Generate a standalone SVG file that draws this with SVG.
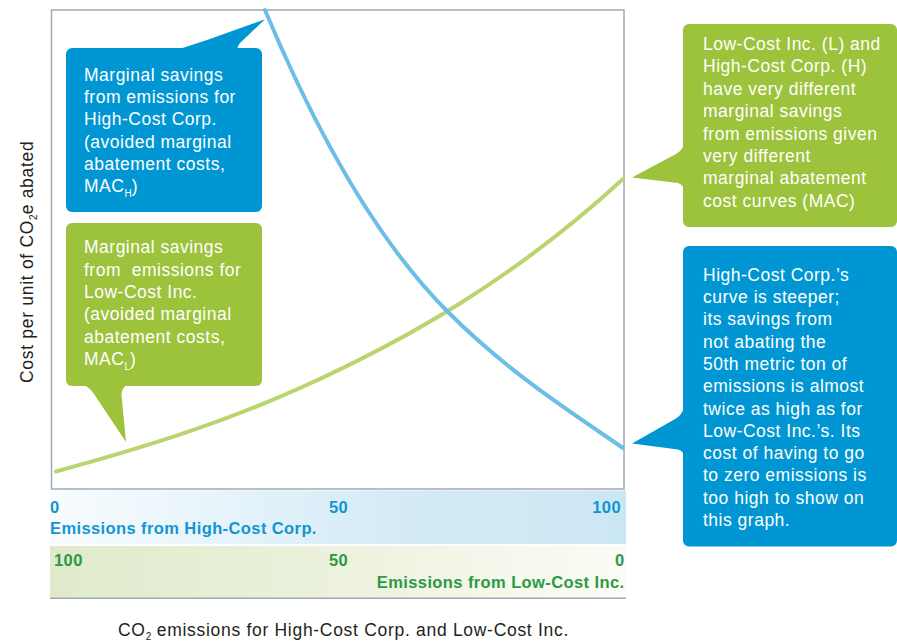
<svg xmlns="http://www.w3.org/2000/svg" width="897" height="642" viewBox="0 0 897 642">
<defs>
<linearGradient id="gBlue" x1="0" y1="0" x2="1" y2="0">
<stop offset="0" stop-color="#f8fcfe"/>
<stop offset="0.6" stop-color="#d4ebf6"/>
<stop offset="1" stop-color="#cce7f4"/>
</linearGradient>
<linearGradient id="gGreen" x1="0" y1="0" x2="1" y2="0">
<stop offset="0" stop-color="#e0eacb"/>
<stop offset="0.5" stop-color="#ecf2dd"/>
<stop offset="1" stop-color="#fbfcf6"/>
</linearGradient>
<style>
.cb{fill:#0096d3}
.cg{fill:#9dc23b}
.ct{font-family:"Liberation Sans",Arial,sans-serif;font-size:17.5px;letter-spacing:0.5px;fill:#ffffff}
.sub{font-size:10px;letter-spacing:0}
.ax{font-family:"Liberation Sans",Arial,sans-serif;font-size:17.5px;letter-spacing:0.7px;fill:#231f20}
.lb{font-family:"Liberation Sans",Arial,sans-serif;font-size:16.5px;font-weight:bold;letter-spacing:0.4px}
.lbB{fill:#1196d3}
.lbG{fill:#2e9846}
.frame{fill:none;stroke:#a0aab4;stroke-width:1.5}
.curve{fill:none;stroke-width:4;stroke-linecap:round}
</style>
</defs>
<rect width="897" height="642" fill="#ffffff"/>

<g id="plot">
<rect class="frame" x="51.5" y="10" width="572.5" height="479"/>
</g>

<g id="curves">
<path class="curve" stroke="#bad46e" d="M56,471.5 C137.3,449.5 218.7,424.6 300,388 C407.7,339.5 515.3,278 623,179"/>
<path class="curve" stroke="#6cbee6" d="M265,10 C326,156 387,251 448,312 C506.3,370.3 564.7,408.3 623,448"/>
</g>

<g id="axis-high">
<rect x="50" y="490.5" width="576" height="53.5" fill="url(#gBlue)"/>
<text class="lb lbB" x="50" y="512.7">0</text>
<text class="lb lbB" x="329" y="512.7">50</text>
<text class="lb lbB" x="621" y="512.7" text-anchor="end">100</text>
<text class="lb lbB" x="50" y="534.3">Emissions from High-Cost Corp.</text>
</g>

<g id="axis-low">
<rect x="50" y="546" width="576" height="52" fill="url(#gGreen)"/>
<line x1="50" y1="598.3" x2="626" y2="598.3" stroke="#a0aab4" stroke-width="1.5"/>
<text class="lb lbG" x="54" y="566">100</text>
<text class="lb lbG" x="329" y="566">50</text>
<text class="lb lbG" x="624.5" y="566" text-anchor="end">0</text>
<text class="lb lbG" x="624.5" y="587.7" text-anchor="end">Emissions from Low-Cost Inc.</text>
</g>

<g id="y-label">
<text class="ax" transform="translate(33,383) rotate(-90)">Cost per unit of CO<tspan class="sub" dy="4">2</tspan><tspan dy="-4">e abated</tspan></text>
</g>

<g id="x-label">
<text class="ax" x="118" y="636">CO<tspan class="sub" dy="4">2</tspan><tspan dy="-4"> emissions for High-Cost Corp. and Low-Cost Inc.</tspan></text>
</g>

<g id="callout-mac-h">
<rect class="cb" x="66" y="48" width="196" height="164" rx="6"/>
<path class="cb" d="M181,48.5 L207,40 L265,19.3 L240,43 Q237.5,46 237.5,48.5 Z"/>
<text class="ct" x="84">
<tspan x="84" y="80.7">Marginal savings</tspan>
<tspan x="84" y="103">from emissions for</tspan>
<tspan x="84" y="125.3">High-Cost Corp.</tspan>
<tspan x="84" y="147.6">(avoided marginal</tspan>
<tspan x="84" y="169.9">abatement costs,</tspan>
<tspan x="84" y="192.2">MAC<tspan class="sub" dy="5">H</tspan><tspan dy="-5">)</tspan></tspan>
</text>
</g>

<g id="callout-mac-l">
<rect class="cg" x="66" y="223" width="196" height="163" rx="6"/>
<path class="cg" d="M84,385 Q90,388 94,394 L126,442 L121.5,395 Q121.5,388 127,385 Z"/>
<text class="ct" x="84">
<tspan x="84" y="253.3">Marginal savings</tspan>
<tspan x="84" y="275.6">from&#160; emissions for</tspan>
<tspan x="84" y="297.9">Low-Cost Inc.</tspan>
<tspan x="84" y="320.2">(avoided marginal</tspan>
<tspan x="84" y="342.5">abatement costs,</tspan>
<tspan x="84" y="364.8">MAC<tspan class="sub" dy="5">L</tspan><tspan dy="-5">)</tspan></tspan>
</text>
</g>

<g id="callout-different">
<rect class="cg" x="683" y="24" width="214" height="203" rx="6"/>
<path class="cg" d="M684,144 Q682,151 676,154 L632,177.5 L678,183 Q684,185 684,191 Z"/>
<text class="ct">
<tspan x="703" y="50">Low-Cost Inc. (L) and</tspan>
<tspan x="703" y="72.4">High-Cost Corp. (H)</tspan>
<tspan x="703" y="94.8">have very different</tspan>
<tspan x="703" y="117.2">marginal savings</tspan>
<tspan x="703" y="139.6">from emissions given</tspan>
<tspan x="703" y="162">very different</tspan>
<tspan x="703" y="184.4">marginal abatement</tspan>
<tspan x="703" y="206.8">cost curves (MAC)</tspan>
</text>
</g>

<g id="callout-steeper">
<rect class="cb" x="683" y="246" width="214" height="300.5" rx="6"/>
<path class="cb" d="M684,407 Q682,415 676,418.5 L632,443.5 L678,449.5 Q684,451 684,457 Z"/>
<text class="ct">
<tspan x="703" y="280.7">High-Cost Corp.’s</tspan>
<tspan x="703" y="303">curve is steeper;</tspan>
<tspan x="703" y="325.3">its savings from</tspan>
<tspan x="703" y="347.6">not abating the</tspan>
<tspan x="703" y="369.9">50th metric ton of</tspan>
<tspan x="703" y="392.2">emissions is almost</tspan>
<tspan x="703" y="414.5">twice as high as for</tspan>
<tspan x="703" y="436.8">Low-Cost Inc.’s. Its</tspan>
<tspan x="703" y="459.1">cost of having to go</tspan>
<tspan x="703" y="481.4">to zero emissions is</tspan>
<tspan x="703" y="503.7">too high to show on</tspan>
<tspan x="703" y="526">this graph.</tspan>
</text>
</g>
</svg>
